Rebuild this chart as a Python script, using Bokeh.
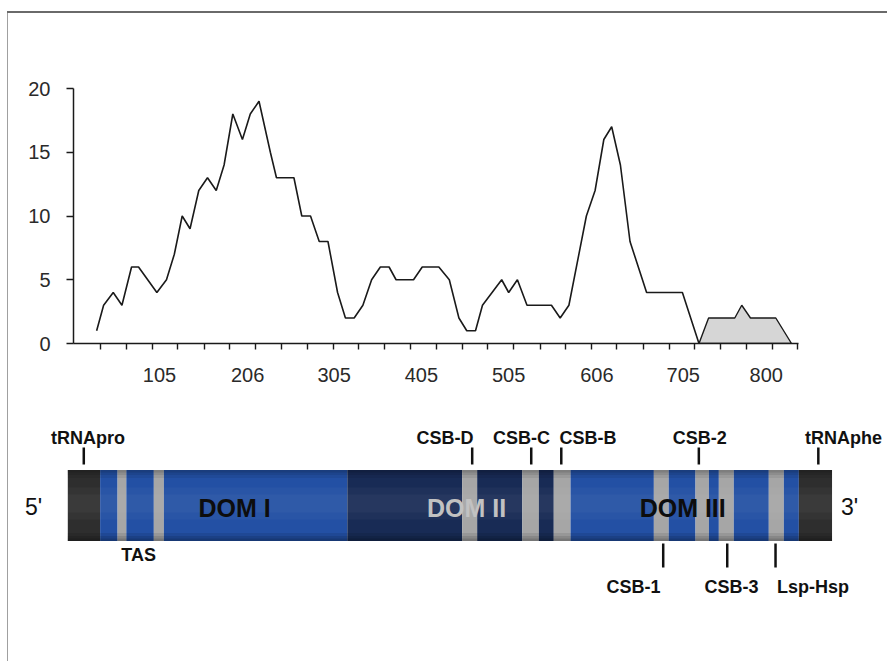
from bokeh.plotting import figure
from bokeh.models import Range1d, FixedTicker, ColumnDataSource, Div
from bokeh.layouts import column, row
from bokeh.core.properties import value
from bokeh.embed import file_html
from bokeh.resources import INLINE

# ---------------- data ----------------
# profile (position in bp, count)
main_pos = [33, 41, 52, 62, 73, 81, 102, 113, 122, 131, 140, 150, 160, 170, 179, 189,
            200, 209, 219, 232, 239, 259, 268, 278, 288, 298, 309, 318, 328, 338, 348,
            358, 368, 376, 396, 406, 425, 437, 448, 457, 467, 475, 486, 497, 505, 515,
            526, 554, 564, 574, 594, 604, 614, 623, 633, 644, 663, 704, 723]
main_val = [1, 3, 4, 3, 6, 6, 4, 5, 7, 10, 9, 12, 13, 12, 14, 18,
            16, 18, 19, 15, 13, 13, 10, 10, 8, 8, 4, 2, 2, 3, 5,
            6, 6, 5, 5, 6, 6, 5, 2, 1, 1, 3, 4, 5, 4, 5,
            3, 3, 2, 3, 10, 12, 16, 17, 14, 8, 4, 4, 0]
shade_pos = [723, 734, 764, 772, 782, 811, 829]
shade_val = [0, 2, 2, 3, 2, 2, 0]

x_tick_labels = [105, 206, 305, 405, 505, 606, 705, 800]
x_minor_ticks = [37, 67, 97, 126, 156, 185, 215, 245, 274, 304, 333, 363, 393, 422,
                 452, 481, 511, 541, 570, 600, 629, 659, 689, 718, 748, 777, 807, 836]
y_ticks = [0, 5, 10, 15, 20]

# control-region map segments (bp)
seg_start = [0, 37, 57, 67, 98.5, 110, 320, 451.5, 468.7, 520.4, 539.3, 556.4, 575.6,
             671, 688, 718.7, 734, 745.4, 762.5, 802.6, 819.8, 837]
seg_end = [37, 57, 67, 98.5, 110, 320, 451.5, 468.7, 520.4, 539.3, 556.4, 575.6, 671,
           688, 718.7, 734, 745.4, 762.5, 802.6, 819.8, 837, 875]
seg_kind = ["cap", "blue", "band", "blue", "band", "blue", "navy", "band", "navy", "band",
            "navy", "band", "blue", "band", "blue", "band", "blue", "band", "blue", "band",
            "blue", "cap"]

domain_names = ["DOM I", "DOM II", "DOM III"]
domain_pos = [191, 456.5, 704]

top_names = ["tRNApro", "CSB-D", "CSB-C", "CSB-B", "CSB-2", "tRNAphe"]
top_text_pos = [23, 432, 519.5, 595.6, 723.6, 888]
top_tick_pos = [18.3, 463, 530.6, 565, 722.5, 859.3]

bottom_names = ["CSB-1", "CSB-3", "Lsp-Hsp"]
bottom_text_pos = [647.7, 760, 853.2]
bottom_tick_pos = [681.7, 755, 810.3]

tas_name = "TAS"
tas_pos = 81
end_names = ["5'", "3'"]
end_pos = [-39.3, 895]

# ---------------- styles ----------------
FONT = "Liberation Sans"
colors = {"cap": "#2e2e2e", "blue": "#2350a4", "navy": "#182b55", "band": "#a6a6a6"}

# ---------------- profile chart ----------------
p = figure(width=879, height=382, x_range=Range1d(6.5, 837), y_range=Range1d(0, 20),
           output_backend="svg", toolbar_location=None, frame_align=False,
           min_border_left=65, min_border_right=89, min_border_top=75, min_border_bottom=52)
p.outline_line_color = None
p.grid.visible = False
p.background_fill_color = "white"
p.border_fill_color = "white"

p.patch(shade_pos, shade_val, fill_color="#d6d6d6", line_color="#1a1a1a", line_width=1.4)
p.line(main_pos, main_val, line_color="#1a1a1a", line_width=1.6)

xa = p.xaxis[0]
xa.ticker = FixedTicker(ticks=x_tick_labels, minor_ticks=x_minor_ticks)
xa.major_tick_out = 0
xa.major_tick_in = 0
xa.minor_tick_out = 6
xa.minor_tick_in = 0
xa.minor_tick_line_color = "#1a1a1a"
xa.minor_tick_line_width = 1.4
xa.axis_line_color = "#1a1a1a"
xa.axis_line_width = 1.5
xa.major_label_standoff = 18
xa.major_label_text_font = FONT
xa.major_label_text_font_size = "20px"
xa.major_label_text_color = "#2a2a2a"

ya = p.yaxis[0]
ya.ticker = FixedTicker(ticks=y_ticks, minor_ticks=[])
ya.major_tick_out = 7
ya.major_tick_in = 0
ya.major_tick_line_color = "#1a1a1a"
ya.major_tick_line_width = 1.4
ya.axis_line_color = "#1a1a1a"
ya.axis_line_width = 1.5
ya.major_label_standoff = 16
ya.major_label_text_font = FONT
ya.major_label_text_font_size = "20px"
ya.major_label_text_color = "#2a2a2a"

# ---------------- map diagram ----------------
d = figure(width=879, height=266, x_range=Range1d(-67.9, 938.5), y_range=Range1d(-156, 110),
           output_backend="svg", toolbar_location=None, min_border=0, frame_align=False,
           x_axis_type=None, y_axis_type=None)
d.outline_line_color = None
d.grid.visible = False
d.background_fill_color = "white"
d.border_fill_color = "white"

H = 35.5
seg_src = ColumnDataSource(dict(left=seg_start, right=seg_end,
                                color=[colors[k] for k in seg_kind]))
d.quad(left="left", right="right", bottom=-H, top=H, fill_color="color",
       line_color=None, source=seg_src)
# cylinder shading (soft layered edges)
bl, br = seg_start[0], seg_end[-1]
for inset, a in [(8, 0.07), (5, 0.08), (2.5, 0.1)]:
    d.quad(left=bl, right=br, bottom=H - inset, top=H, fill_color="black",
           fill_alpha=a, line_color=None)
    d.quad(left=bl, right=br, bottom=-H, top=-H + inset, fill_color="black",
           fill_alpha=a + 0.02, line_color=None)
for lo, hi, a in [(-14, 18, 0.03), (-7, 11, 0.03)]:
    d.quad(left=bl, right=br, bottom=lo, top=hi, fill_color="white",
           fill_alpha=a, line_color=None)

d.text(x=[domain_pos[0], domain_pos[2]], y=[-2, -2],
       text=[domain_names[0], domain_names[2]], text_align="center",
       text_baseline="middle", text_font=value(FONT), text_font_style="bold",
       text_font_size="25px", text_color="#0d0d0d")
d.text(x=[domain_pos[1]], y=[-2], text=[domain_names[1]], text_align="center",
       text_baseline="middle", text_font=value(FONT), text_font_style="bold",
       text_font_size="25px", text_color="#c2c2c2")

d.segment(x0=top_tick_pos, y0=[41] * len(top_tick_pos), x1=top_tick_pos,
          y1=[58] * len(top_tick_pos), line_color="#111111", line_width=2.5)
d.segment(x0=bottom_tick_pos, y0=[-38] * len(bottom_tick_pos), x1=bottom_tick_pos,
          y1=[-62] * len(bottom_tick_pos), line_color="#111111", line_width=2.5)

d.text(x=top_text_pos, y=[68] * len(top_text_pos), text=top_names, text_align="center",
       text_baseline="middle", text_font=value(FONT), text_font_style="bold",
       text_font_size="18px", text_color="#111111")
d.text(x=bottom_text_pos, y=[-81.5] * len(bottom_text_pos), text=bottom_names,
       text_align="center", text_baseline="middle", text_font=value(FONT),
       text_font_style="bold", text_font_size="18px", text_color="#111111")
d.text(x=[tas_pos], y=[-49.5], text=[tas_name], text_align="center",
       text_baseline="middle", text_font=value(FONT), text_font_style="bold",
       text_font_size="18px", text_color="#111111")
d.text(x=end_pos, y=[-1, -1], text=end_names, text_align="center",
       text_baseline="middle", text_font=value(FONT), text_font_size="23px",
       text_color="#111111")

# ---------------- frame lines & layout ----------------
top_line = Div(text="", width=880, height=2, margin=(11, 0, 0, 7),
               styles={"background-color": "#6a6a6a"})
left_line = Div(text="", width=1, height=382 + 266, margin=(0, 0, 0, 7),
                styles={"background-color": "#a0a0a0"})

layout = column(top_line, row(left_line, column(p, d)))

open("out.html", "w").write(file_html(layout, INLINE))
